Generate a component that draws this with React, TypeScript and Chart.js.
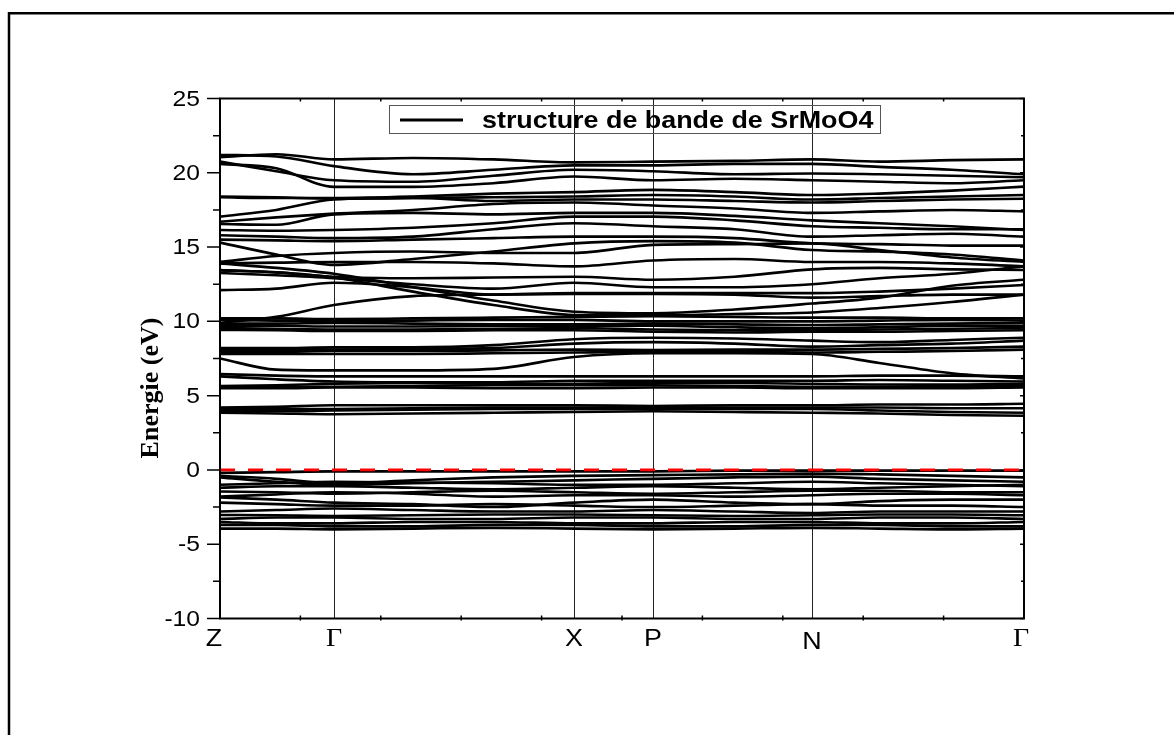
import React, { useEffect, useRef } from 'react';
import { Chart, registerables } from 'chart.js';

Chart.register(...registerables);

// Path coordinate (0..1) of every sampled k-point along Z-Γ-X-P-N-Γ
const kPath = [0, 0.07, 0.1418, 0.24, 0.34, 0.4403, 0.5386, 0.64, 0.7363, 0.82, 0.91, 1.0];

// High-symmetry points and their path coordinate
const kPointLabels = ['Z', 'Γ', 'X', 'P', 'N', 'Γ'];
const kPointPositions = [0, 0.1418, 0.4403, 0.5386, 0.7363, 1.0];

const energyTicks = [-10, -5, 0, 5, 10, 15, 20, 25];
const energyMinorTicks = [-7.5, -2.5, 2.5, 7.5, 12.5, 17.5, 22.5];
const fermiLevel = 0;

// Valence bands (eV)
const valenceBands = [
  [-0.2, -0.15, -0.1, -0.1, -0.1, -0.1, -0.1, -0.05, -0.05, -0.05, -0.05, -0.05],
  [-0.4, -0.6, -0.9, -0.7, -0.5, -0.4, -0.35, -0.3, -0.25, -0.3, -0.4, -0.5],
  [-0.5, -0.8, -1.0, -0.9, -0.8, -0.7, -0.6, -0.5, -0.45, -0.6, -0.7, -0.8],
  [-1.0, -0.9, -0.8, -0.85, -0.9, -1.0, -1.0, -0.9, -0.8, -0.9, -1.0, -1.1],
  [-1.2, -1.1, -1.1, -1.2, -1.3, -1.2, -1.1, -1.2, -1.3, -1.2, -1.1, -1.0],
  [-1.45, -1.5, -1.6, -1.5, -1.4, -1.5, -1.6, -1.5, -1.4, -1.4, -1.5, -1.5],
  [-1.8, -1.65, -1.5, -1.6, -1.8, -1.7, -1.7, -1.8, -1.7, -1.6, -1.6, -1.7],
  [-1.85, -2.0, -2.2, -2.3, -2.5, -2.2, -2.0, -2.2, -2.3, -2.1, -2.0, -2.0],
  [-2.2, -2.3, -2.4, -2.4, -2.3, -2.4, -2.5, -2.4, -2.3, -2.4, -2.4, -2.5],
  [-2.8, -2.7, -2.6, -2.7, -2.8, -2.8, -2.7, -2.8, -2.9, -2.8, -2.8, -2.8],
  [-3.03, -3.05, -3.1, -3.05, -3.0, -3.0, -3.05, -3.1, -3.05, -3.0, -3.0, -3.05],
  [-3.3, -3.2, -3.2, -3.3, -3.3, -3.2, -3.2, -3.3, -3.3, -3.2, -3.2, -3.3],
  [-3.5, -3.6, -3.6, -3.5, -3.5, -3.6, -3.6, -3.5, -3.5, -3.6, -3.6, -3.5],
  [-3.7, -3.7, -3.8, -3.8, -3.7, -3.7, -3.8, -3.8, -3.7, -3.7, -3.8, -3.8],
  [-3.95, -3.95, -4.0, -3.95, -3.9, -3.95, -4.0, -3.95, -3.9, -3.95, -4.0, -3.95],
];

// Lowest conduction bands, 3.6 - 4.5 eV
const conductionLow = [
  [4.2, 4.25, 4.35, 4.35, 4.35, 4.35, 4.3, 4.35, 4.35, 4.4, 4.4, 4.45],
  [4.1, 4.1, 4.1, 4.15, 4.2, 4.2, 4.2, 4.2, 4.2, 4.2, 4.15, 4.15],
  [3.95, 3.95, 4.0, 4.05, 4.1, 4.1, 4.1, 4.1, 4.1, 4.0, 3.9, 3.85],
  [3.85, 3.8, 3.75, 3.8, 3.85, 3.9, 3.95, 3.9, 3.85, 3.8, 3.7, 3.65],
];

// Bands between 5.5 and 9 eV
const conductionMid = [
  [6.45, 6.35, 6.3, 6.3, 6.3, 6.3, 6.3, 6.3, 6.3, 6.35, 6.35, 6.3],
  [6.3, 6.1, 5.95, 5.9, 5.9, 6.0, 6.0, 6.0, 6.0, 6.05, 6.0, 5.95],
  [5.65, 5.7, 5.8, 5.85, 5.8, 5.8, 5.85, 5.85, 5.8, 5.75, 5.75, 5.8],
  [5.6, 5.6, 5.6, 5.65, 5.7, 5.7, 5.7, 5.65, 5.6, 5.6, 5.65, 5.65],
  [5.5, 5.5, 5.55, 5.55, 5.5, 5.5, 5.55, 5.55, 5.5, 5.5, 5.5, 5.55],
  [7.5, 6.75, 6.7, 6.7, 6.8, 7.6, 7.85, 7.85, 7.8, 7.2, 6.5, 6.15],
  [7.8, 7.8, 7.8, 7.8, 7.85, 7.9, 7.96, 7.95, 7.9, 7.95, 8.0, 8.1],
  [7.95, 7.95, 8.0, 8.0, 8.05, 8.1, 8.07, 8.1, 8.1, 8.15, 8.2, 8.3],
  [8.05, 8.1, 8.1, 8.15, 8.2, 8.5, 8.6, 8.5, 8.3, 8.4, 8.5, 8.7],
  [8.2, 8.2, 8.25, 8.25, 8.4, 8.8, 8.9, 8.85, 8.7, 8.6, 8.75, 8.9],
];

// Bands between 9.3 and 14 eV
const conductionHigh = [
  [9.42, 9.4, 9.35, 9.35, 9.4, 9.4, 9.3, 9.25, 9.3, 9.3, 9.35, 9.4],
  [9.55, 9.5, 9.45, 9.45, 9.5, 9.55, 9.45, 9.4, 9.4, 9.45, 9.5, 9.55],
  [9.7, 9.7, 9.65, 9.65, 9.7, 9.7, 9.7, 9.6, 9.55, 9.6, 9.7, 9.7],
  [9.85, 9.85, 9.9, 9.85, 9.8, 9.8, 9.85, 9.8, 9.75, 9.8, 9.85, 9.9],
  [10.1, 10.05, 10.0, 10.05, 10.1, 10.1, 10.0, 10.0, 10.0, 10.05, 10.1, 10.05],
  [10.2, 10.2, 10.15, 10.2, 10.25, 10.3, 10.35, 10.3, 10.25, 10.25, 10.2, 10.2],
  [9.9, 10.3, 11.1, 11.7, 11.8, 11.85, 11.85, 11.8, 11.6, 11.7, 11.8, 11.8],
  [12.1, 12.2, 12.6, 12.3, 11.8, 11.9, 11.9, 11.9, 11.9, 12.0, 12.2, 12.45],
  [13.45, 13.3, 12.95, 12.0, 11.1, 10.43, 10.4, 10.5, 10.6, 10.9, 11.3, 11.8],
  [13.9, 13.6, 13.2, 12.3, 11.4, 10.65, 10.55, 10.8, 11.2, 11.6, 12.4, 12.8],
  [13.25, 13.1, 12.9, 12.5, 12.2, 12.6, 12.3, 12.3, 12.5, 12.9, 13.2, 13.7],
  [13.45, 13.3, 13.0, 12.9, 12.95, 13.0, 12.8, 13.0, 13.5, 13.6, 13.5, 13.46],
];

// Bands between 13.7 and 17.5 eV
const conductionUpper = [
  [13.9, 13.95, 14.0, 14.0, 13.9, 13.7, 14.1, 14.2, 14.0, 14.0, 13.9, 13.7],
  [14.0, 14.4, 14.6, 14.7, 14.6, 14.6, 15.15, 15.2, 15.25, 14.8, 14.3, 14.0],
  [15.3, 14.5, 13.8, 14.2, 14.7, 15.25, 15.4, 15.3, 14.8, 14.7, 14.5, 14.1],
  [15.5, 15.45, 15.4, 15.5, 15.6, 15.7, 15.7, 15.6, 15.25, 15.2, 15.1, 15.1],
  [15.8, 15.7, 15.6, 15.7, 16.2, 16.6, 16.4, 16.2, 15.7, 15.8, 15.9, 15.7],
  [16.15, 16.1, 16.15, 16.3, 16.6, 17.05, 17.05, 16.8, 16.4, 16.3, 16.2, 16.2],
  [16.55, 16.5, 17.2, 17.3, 17.2, 17.3, 17.3, 17.1, 16.8, 16.6, 16.4, 16.15],
];

// Top bands, 16.7 - 21.2 eV
const conductionTop = [
  [16.7, 17.0, 17.25, 17.5, 17.9, 18.0, 17.8, 17.6, 17.3, 17.4, 17.5, 17.4],
  [17.05, 17.5, 18.2, 18.3, 18.1, 18.2, 18.2, 18.1, 18.0, 18.1, 18.2, 18.25],
  [18.4, 18.35, 18.25, 18.3, 18.35, 18.4, 18.5, 18.4, 18.2, 18.3, 18.4, 18.5],
  [18.35, 18.3, 18.3, 18.4, 18.6, 18.7, 18.85, 18.7, 18.5, 18.6, 18.8, 19.07],
  [20.6, 20.3, 19.05, 19.05, 19.3, 19.75, 19.5, 19.6, 19.5, 19.4, 19.3, 19.5],
  [20.75, 20.1, 19.5, 19.4, 19.8, 20.2, 20.1, 19.9, 19.95, 19.9, 19.8, 19.7],
  [21.2, 21.1, 20.45, 19.9, 20.2, 20.5, 20.5, 20.6, 20.6, 20.4, 20.2, 19.9],
  [21.05, 21.25, 20.9, 21.0, 20.9, 20.7, 20.75, 20.8, 20.9, 20.75, 20.85, 20.9],
];

const legendText = 'structure de bande de SrMoO4';
const yAxisTitle = 'Energie (eV)';

const SANS = '"Liberation Sans", Arial, sans-serif';
const SERIF = '"Liberation Serif", "Times New Roman", serif';
const STRETCH = 1.12;

function stretchedText(
  ctx: CanvasRenderingContext2D,
  text: string,
  x: number,
  y: number,
  align: CanvasTextAlign,
  baseline: CanvasTextBaseline
) {
  ctx.save();
  ctx.translate(x, y);
  ctx.scale(STRETCH, 1);
  ctx.textAlign = align;
  ctx.textBaseline = baseline;
  ctx.fillText(text, 0, 0);
  ctx.restore();
}

const framePlugin = {
  id: 'bandFrame',
  beforeDatasetsDraw(chart: any) {
    const { ctx, chartArea, scales } = chart;
    const x = scales.x;
    ctx.save();
    ctx.strokeStyle = '#222';
    ctx.lineWidth = 1;
    kPointPositions.slice(1, -1).forEach((k) => {
      const px = Math.round(x.getPixelForValue(k)) + 0.5;
      ctx.beginPath();
      ctx.moveTo(px, chartArea.top);
      ctx.lineTo(px, chartArea.bottom);
      ctx.stroke();
    });
    ctx.restore();
  },
  afterDraw(chart: any) {
    const { ctx, chartArea, scales } = chart;
    const { left, right, top, bottom } = chartArea;
    const x = scales.x;
    const y = scales.y;
    ctx.save();

    // Axis box
    ctx.strokeStyle = '#000';
    ctx.lineWidth = 2;
    ctx.strokeRect(left, top, right - left, bottom - top);

    // Energy ticks: outward on the left, small inward marks on the right
    ctx.lineWidth = 1.5;
    energyTicks.forEach((v) => {
      const py = y.getPixelForValue(v);
      ctx.beginPath();
      ctx.moveTo(left - 13, py);
      ctx.lineTo(left, py);
      ctx.moveTo(right, py);
      ctx.lineTo(right - 4, py);
      ctx.stroke();
    });
    energyMinorTicks.forEach((v) => {
      const py = y.getPixelForValue(v);
      ctx.beginPath();
      ctx.moveTo(left - 7, py);
      ctx.lineTo(left, py);
      ctx.moveTo(right, py);
      ctx.lineTo(right - 3, py);
      ctx.stroke();
    });

    // Path ticks every 0.1
    for (let i = 1; i < 10; i++) {
      const px = x.getPixelForValue(i / 10);
      ctx.beginPath();
      ctx.moveTo(px, bottom - 3);
      ctx.lineTo(px, bottom + 2);
      ctx.moveTo(px, top);
      ctx.lineTo(px, top + 3);
      ctx.stroke();
    }

    // Energy tick labels
    ctx.fillStyle = '#000';
    ctx.font = `22px ${SANS}`;
    energyTicks.forEach((v) => {
      stretchedText(ctx, String(v), left - 20, y.getPixelForValue(v) + 1, 'right', 'middle');
    });

    // High-symmetry point labels
    kPointLabels.forEach((lab, i) => {
      let px = x.getPixelForValue(kPointPositions[i]);
      if (i === 0) px -= 6;
      if (i === kPointLabels.length - 1) px -= 3;
      const isGreek = lab === 'Γ';
      ctx.font = isGreek ? `25px ${SERIF}` : `24px ${SANS}`;
      const base = lab === 'N' ? bottom + 30 : bottom + 27;
      stretchedText(ctx, lab, px, base, 'center', 'alphabetic');
    });

    // Axis title
    ctx.save();
    ctx.translate(158, 388);
    ctx.rotate(-Math.PI / 2);
    ctx.font = `bold 26px ${SERIF}`;
    ctx.textAlign = 'center';
    ctx.textBaseline = 'alphabetic';
    ctx.fillText(yAxisTitle, 0, 0);
    ctx.restore();

    // Legend
    ctx.strokeStyle = '#555';
    ctx.lineWidth = 1;
    ctx.strokeRect(389.5, 105.5, 491, 28);
    ctx.strokeStyle = '#000';
    ctx.lineWidth = 3;
    ctx.beginPath();
    ctx.moveTo(400, 120);
    ctx.lineTo(463, 120);
    ctx.stroke();
    ctx.font = `bold 24px ${SANS}`;
    stretchedText(ctx, legendText, 482, 128, 'left', 'alphabetic');

    // Page frame (left and top edges)
    ctx.lineWidth = 2.5;
    ctx.beginPath();
    ctx.moveTo(9, 735);
    ctx.lineTo(9, 13.3);
    ctx.lineTo(1174, 13.3);
    ctx.stroke();

    ctx.restore();
  },
};

const allBands = [
  ...valenceBands,
  ...conductionLow,
  ...conductionMid,
  ...conductionHigh,
  ...conductionUpper,
  ...conductionTop,
];

export default function App() {
  const canvasRef = useRef<HTMLCanvasElement | null>(null);

  useEffect(() => {
    const canvas = canvasRef.current;
    if (!canvas) return;

    const fermiDataset = {
      label: 'EF',
      data: [
        { x: 0, y: fermiLevel },
        { x: 1, y: fermiLevel },
      ],
      borderColor: '#ff0000',
      borderWidth: 2.7,
      borderDash: [15, 13],
      pointRadius: 0,
      fill: false,
    };

    const bandDatasets = allBands.map((band, b) => ({
      label: `band ${b + 1}`,
      data: band.map((e, i) => ({ x: kPath[i], y: e })),
      borderColor: '#000',
      borderWidth: 2.6,
      pointRadius: 0,
      fill: false,
      cubicInterpolationMode: 'monotone' as const,
    }));

    const chart = new Chart(canvas, {
      type: 'line',
      data: { datasets: [fermiDataset, ...bandDatasets] as any },
      options: {
        responsive: false,
        animation: false,
        events: [],
        layout: { padding: { left: 220, right: 150, top: 98.5, bottom: 116.5 } },
        plugins: { legend: { display: false }, tooltip: { enabled: false } },
        scales: {
          x: { type: 'linear', min: 0, max: 1, display: false },
          y: { type: 'linear', min: -10, max: 25, display: false },
        },
      },
      plugins: [framePlugin],
    });

    return () => chart.destroy();
  }, []);

  return (
    <div style={{ position: 'absolute', left: 0, top: 0, width: 1174, height: 735, background: '#fff' }}>
      <canvas ref={canvasRef} width={1174} height={735} style={{ display: 'block' }} />
    </div>
  );
}
